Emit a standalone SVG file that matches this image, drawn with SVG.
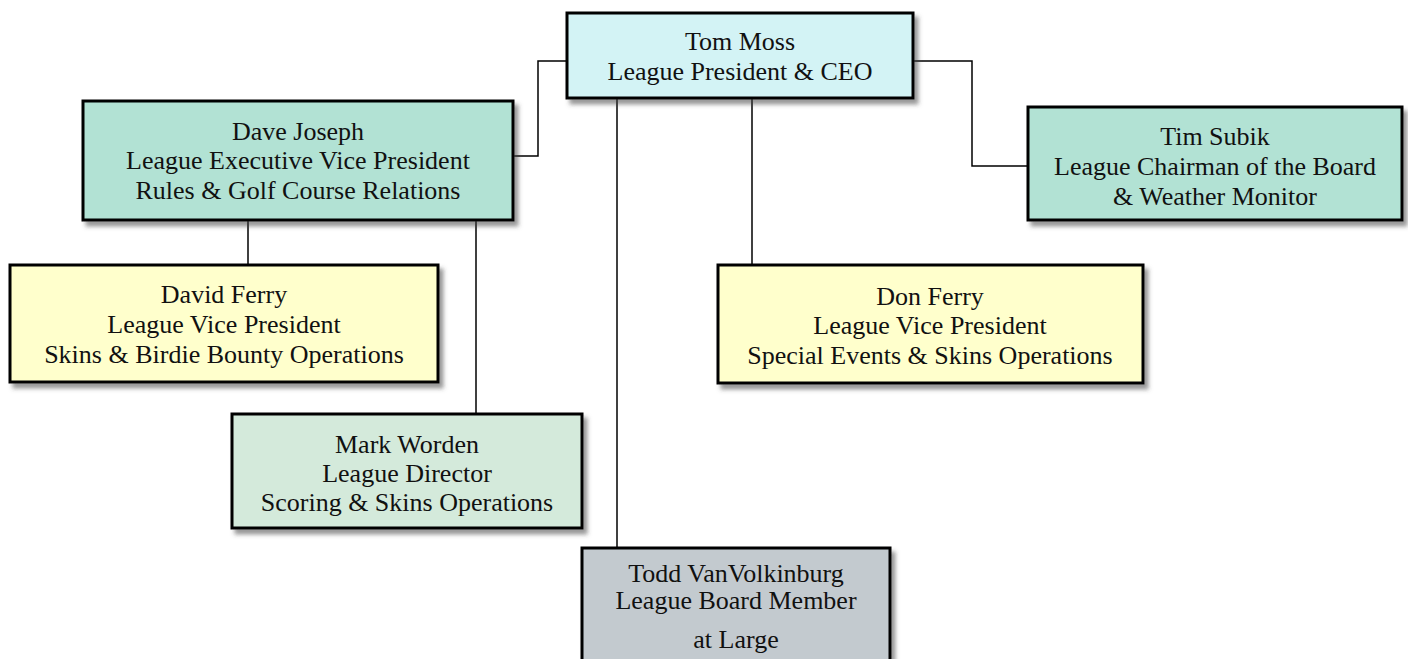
<svg xmlns="http://www.w3.org/2000/svg" width="1408" height="659" viewBox="0 0 1408 659">
<defs>
<filter id="sh" x="-10%" y="-10%" width="125%" height="135%">
<feDropShadow dx="4" dy="5" stdDeviation="2.2" flood-color="#444" flood-opacity="0.55"/>
</filter>
</defs>
<style>
.box{stroke:#000;stroke-width:3;filter:url(#sh)}
.t{font-family:"Liberation Serif","Times New Roman",serif;font-size:26px;fill:#111;text-anchor:middle}
.c{fill:none;stroke:#000;stroke-width:1.5}
</style>
<rect width="1408" height="659" fill="#fff"/>
<g id="connectors">
<polyline class="c" points="567,61 538,61 538,156 513,156"/>
<polyline class="c" points="913,61 972,61 972,166 1028,166"/>
<line class="c" x1="617" y1="98" x2="617" y2="548"/>
<line class="c" x1="752" y1="98" x2="752" y2="265"/>
<line class="c" x1="248" y1="220" x2="248" y2="265"/>
<line class="c" x1="476" y1="220" x2="476" y2="414"/>
</g>
<g id="tom">
<rect class="box" x="567" y="13" width="346" height="85" fill="#D3F3F5"/>
<text class="t" x="740" y="50">Tom Moss</text>
<text class="t" x="740" y="80">League President &amp; CEO</text>
</g>
<g id="dave">
<rect class="box" x="83" y="101" width="430" height="119" fill="#B2E2D4"/>
<text class="t" x="298" y="140">Dave Joseph</text>
<text class="t" x="298" y="169">League Executive Vice President</text>
<text class="t" x="298" y="199">Rules &amp; Golf Course Relations</text>
</g>
<g id="tim">
<rect class="box" x="1028" y="107" width="374" height="113" fill="#B2E2D4"/>
<text class="t" x="1215" y="145">Tim Subik</text>
<text class="t" x="1215" y="175">League Chairman of the Board</text>
<text class="t" x="1215" y="205">&amp; Weather Monitor</text>
</g>
<g id="david">
<rect class="box" x="10" y="265" width="428" height="117" fill="#FFFFCC"/>
<text class="t" x="224" y="303">David Ferry</text>
<text class="t" x="224" y="333">League Vice President</text>
<text class="t" x="224" y="363">Skins &amp; Birdie Bounty Operations</text>
</g>
<g id="don">
<rect class="box" x="718" y="265" width="425" height="118" fill="#FFFFCC"/>
<text class="t" x="930" y="305">Don Ferry</text>
<text class="t" x="930" y="334">League Vice President</text>
<text class="t" x="930" y="364">Special Events &amp; Skins Operations</text>
</g>
<g id="mark">
<rect class="box" x="232" y="414" width="350" height="114" fill="#D4EADB"/>
<text class="t" x="407" y="453">Mark Worden</text>
<text class="t" x="407" y="482">League Director</text>
<text class="t" x="407" y="511">Scoring &amp; Skins Operations</text>
</g>
<g id="todd">
<rect class="box" x="582" y="548" width="308" height="120" fill="#C3CACF"/>
<text class="t" x="736" y="582">Todd VanVolkinburg</text>
<text class="t" x="736" y="609">League Board Member</text>
<text class="t" x="736" y="648">at Large</text>
</g>
</svg>
